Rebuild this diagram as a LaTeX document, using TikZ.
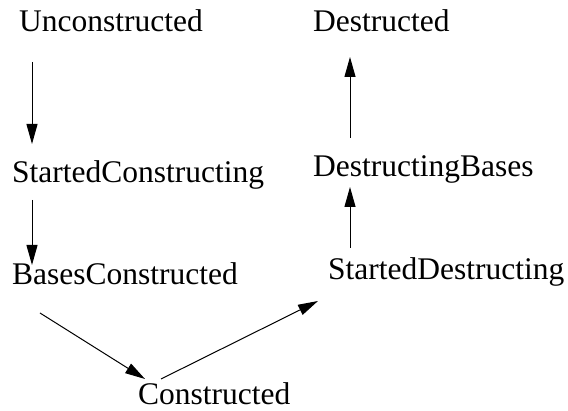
\documentclass[tikz,border=0pt]{standalone}
\usepackage{fontspec}
\setmainfont{Liberation Serif}
\usepackage{tikz}
\usetikzlibrary{arrows.meta}
\tikzset{
	% The states of the building
	state/.style={
		anchor=base west,inner sep=0pt,font=\fontsize{31.5}{38}\selectfont
	},
	% The moves from one state to the next
	move/.style={
		draw=black,line width=1pt,-{Triangle[length=20pt,width=11pt]}
	},
}
\begin{document}
\begin{tikzpicture}[x=1pt,y=1pt]
		\useasboundingbox (0,0) rectangle (568,411);
		% Building up
		\node [state] (Unconstructed) at (19,379) {Unconstructed};
		\node [state] (StartedConstructing) at (12,228) {StartedConstructing};
		\node [state] (BasesConstructed) at (12,126) {BasesConstructed};
		\node [state] (Constructed) at (138,6) {Constructed};

		% Tearing down
		\node [state] (StartedDestructing) at (328,131) {StartedDestructing};
		\node [state] (DestructingBases) at (313,234) {DestructingBases};
		\node [state] (Destructed) at (313,379) {Destructed};

		\draw [move] ([shift={(13,-30)}]Unconstructed.base west) -- ([shift={(20,39)}]StartedConstructing.base west);
		\draw [move] ([shift={(20,-17)}]StartedConstructing.base west) -- ([shift={(20,20)}]BasesConstructed.base west);
		\draw [move] ([shift={(28,-28)}]BasesConstructed.base west) -- ([shift={(7,26)}]Constructed.base west);
		\draw [move] ([shift={(23,26)}]Constructed.base west) -- ([shift={(-10,-21)}]StartedDestructing.base west);
		\draw [move] ([shift={(22,32)}]StartedDestructing.base west) -- ([shift={(37,-10)}]DestructingBases.base west);
		\draw [move] ([shift={(37,39)}]DestructingBases.base west) -- ([shift={(37,-25)}]Destructed.base west);
	\end{tikzpicture}
\end{document}
